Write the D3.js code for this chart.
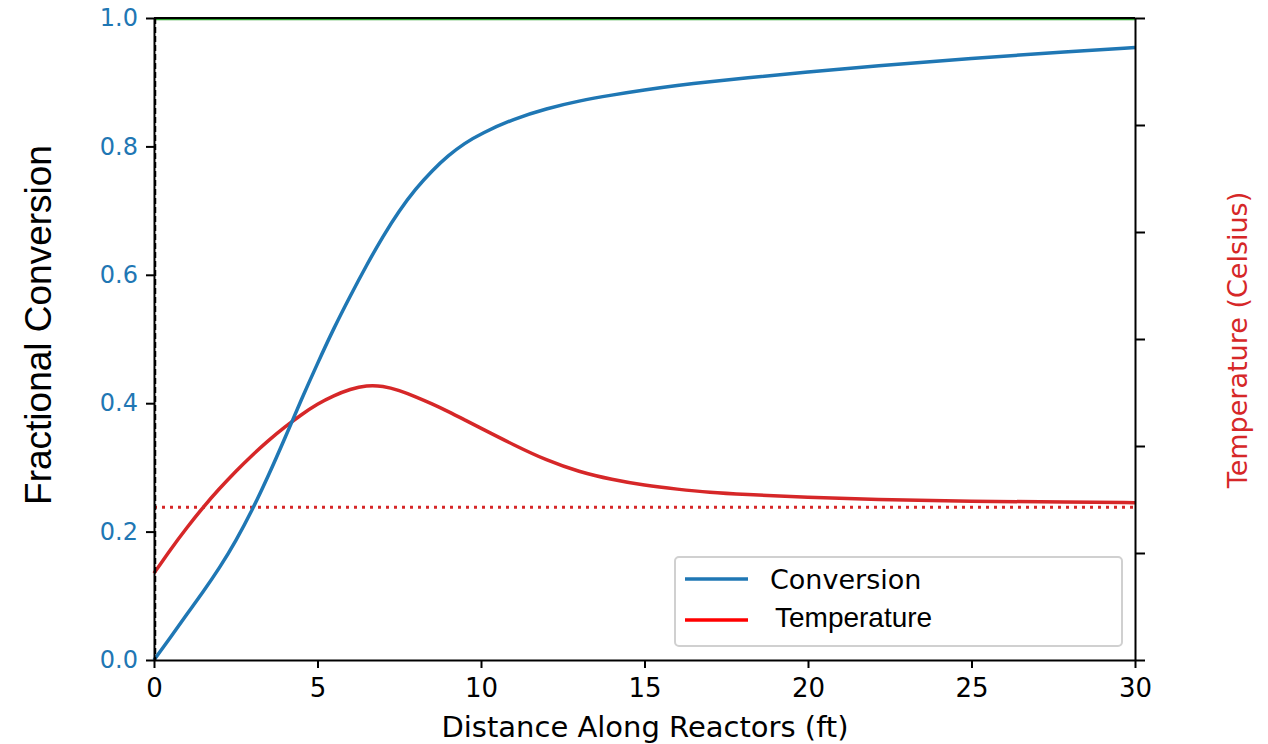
<!DOCTYPE html>
<html>
<head>
<meta charset="utf-8">
<script src="https://cdn.jsdelivr.net/npm/d3@7"></script>
<style>
  body { margin: 0; background: #fff; }
  svg { display: block; }
</style>
</head>
<body>
<div id="chart"></div>
<script>
var width = 1268;
var height = 744;

// data
var distance = [0, 0.5, 1, 1.5, 2, 2.5, 3, 3.5, 4, 4.5, 5, 5.5, 6, 6.5, 7, 7.5, 8, 8.5, 9, 9.5, 10, 11, 12, 13, 14, 15, 16, 17, 18, 20, 22, 25, 28, 30];
var conversion = [0, 0.035, 0.071, 0.106, 0.143, 0.185, 0.233, 0.287, 0.345, 0.405, 0.462, 0.517, 0.567, 0.615, 0.66, 0.7, 0.734, 0.762, 0.786, 0.805, 0.82, 0.843, 0.859, 0.871, 0.88, 0.888, 0.895, 0.901, 0.906, 0.916, 0.925, 0.937, 0.948, 0.954];
var temperature = [0.135, 0.172, 0.206, 0.238, 0.267, 0.294, 0.319, 0.342, 0.363, 0.382, 0.399, 0.412, 0.422, 0.428, 0.427, 0.42, 0.41, 0.399, 0.387, 0.374, 0.361, 0.335, 0.311, 0.293, 0.281, 0.272, 0.266, 0.261, 0.258, 0.253, 0.25, 0.247, 0.246, 0.245];
var equilibriumTemp = 0.238;
var xTicks = [0, 5, 10, 15, 20, 25, 30];
var yTicks = [0, 0.2, 0.4, 0.6, 0.8, 1.0];
var rightTicks = [0, 1, 2, 3, 4, 5, 6];

var plotLeft = 154, plotRight = 1135, plotTop = 18, plotBottom = 660;

var svg = d3.select("#chart").append("svg")
  .attr("width", width)
  .attr("height", height);

var xScale = d3.scaleLinear().domain([0, 30]).range([plotLeft, plotRight]);
var yScale = d3.scaleLinear().domain([0, 1]).range([plotBottom, plotTop]);
// twin axis for temperature, unlabeled
var yRight = d3.scaleLinear().domain([0, 6]).range([plotBottom, plotTop]);

var line = d3.line()
  .x(function(d) { return xScale(d[0]); })
  .y(function(d) { return yScale(d[1]); })
  .curve(d3.curveBasis);

// green reference line at full conversion
svg.append("line")
  .attr("x1", xScale(0)).attr("x2", xScale(30))
  .attr("y1", yScale(1) + 1.5).attr("y2", yScale(1) + 1.5)
  .attr("stroke", "#2ca02c").attr("stroke-width", 1.5);

// dotted line for inlet temperature level
svg.append("line")
  .attr("x1", xScale(0)).attr("x2", xScale(30))
  .attr("y1", yScale(equilibriumTemp)).attr("y2", yScale(equilibriumTemp))
  .attr("stroke", "#d62728").attr("stroke-width", 3)
  .attr("stroke-dasharray", "3,5");

svg.append("path")
  .datum(distance.map(function(d, i) { return [d, temperature[i]]; }))
  .attr("d", line)
  .attr("fill", "none")
  .attr("stroke", "#d62728")
  .attr("stroke-width", 3.5);

svg.append("path")
  .datum(distance.map(function(d, i) { return [d, conversion[i]]; }))
  .attr("d", line)
  .attr("fill", "none")
  .attr("stroke", "#1f77b4")
  .attr("stroke-width", 3.5);

// dashed vertical at the inlet
svg.append("line")
  .attr("x1", xScale(0) + 1.5).attr("x2", xScale(0) + 1.5)
  .attr("y1", yScale(1)).attr("y2", yScale(0))
  .attr("stroke", "#000").attr("stroke-width", 1.5)
  .attr("stroke-dasharray", "6,3");

// axes
var xAxis = d3.axisBottom(xScale).tickValues(xTicks).tickSize(8).tickPadding(11).tickSizeOuter(0);
var yAxis = d3.axisLeft(yScale).tickValues(yTicks).tickSize(8).tickPadding(8).tickFormat(d3.format(".1f")).tickSizeOuter(0);
var rAxis = d3.axisRight(yRight).tickValues(rightTicks).tickSize(10).tickFormat("").tickSizeOuter(0);

var gx = svg.append("g")
  .attr("transform", "translate(0," + plotBottom + ")")
  .call(xAxis);
gx.selectAll("text")
  .attr("font-family", "DejaVu Sans").attr("font-size", 26).attr("fill", "#000");

var gy = svg.append("g")
  .attr("transform", "translate(" + plotLeft + ",0)")
  .call(yAxis);
gy.selectAll("text")
  .attr("font-family", "DejaVu Sans").attr("font-size", 24).attr("fill", "#1f77b4");

svg.append("g")
  .attr("transform", "translate(" + plotRight + ",0)")
  .call(rAxis);

svg.selectAll(".domain, .tick line").attr("stroke", "#000").attr("stroke-width", 2);

// top spine
svg.append("line")
  .attr("x1", plotLeft).attr("x2", plotRight)
  .attr("y1", plotTop).attr("y2", plotTop)
  .attr("stroke", "#000").attr("stroke-width", 2);

// axis titles
svg.append("text")
  .attr("transform", "translate(" + 51 + "," + 325 + ")rotate(-90)")
  .attr("text-anchor", "middle")
  .attr("font-family", "Liberation Sans")
  .attr("font-size", 37)
  .attr("fill", "#000")
  .text("Fractional Conversion");

svg.append("text")
  .attr("transform", "translate(" + 1247 + "," + 340 + ")rotate(-90)")
  .attr("text-anchor", "middle")
  .attr("font-family", "DejaVu Sans")
  .attr("font-size", 27)
  .attr("fill", "#d62728")
  .text("Temperature (Celsius)");

svg.append("text")
  .attr("x", 645)
  .attr("y", 737)
  .attr("text-anchor", "middle")
  .attr("font-family", "DejaVu Sans")
  .attr("font-size", 29)
  .attr("fill", "#000")
  .text("Distance Along Reactors (ft)");

// legend
var legend = svg.append("g").attr("transform", "translate(675,557)");
legend.append("rect")
  .attr("width", 447).attr("height", 89)
  .attr("rx", 4)
  .attr("fill", "#fff")
  .attr("stroke", "#d0d0d0").attr("stroke-width", 2);
legend.append("line")
  .attr("x1", 10).attr("x2", 73).attr("y1", 22).attr("y2", 22)
  .attr("stroke", "#1f77b4").attr("stroke-width", 3.5);
legend.append("text")
  .attr("x", 95).attr("y", 32)
  .attr("font-family", "DejaVu Sans").attr("font-size", 27)
  .attr("fill", "#000")
  .text("Conversion");
legend.append("line")
  .attr("x1", 10).attr("x2", 73).attr("y1", 63).attr("y2", 63)
  .attr("stroke", "#ff0000").attr("stroke-width", 3.5);
legend.append("text")
  .attr("x", 100).attr("y", 70)
  .attr("font-family", "Liberation Sans").attr("font-size", 28)
  .attr("fill", "#000")
  .text("Temperature");
</script>
</body>
</html>
